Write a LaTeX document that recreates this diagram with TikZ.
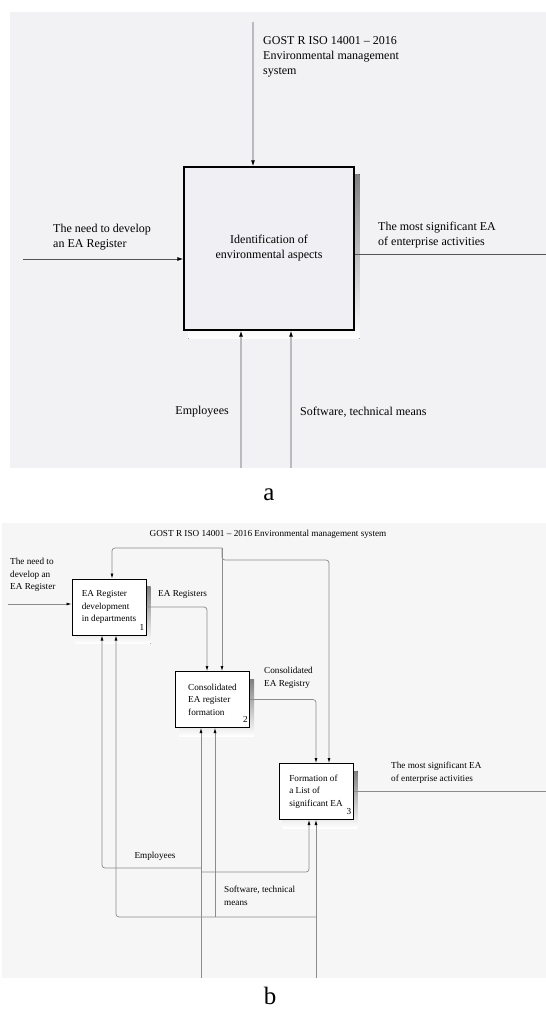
\documentclass[tikz,border=0pt]{standalone}
\usepackage{fontspec}
\setmainfont{Liberation Serif}
\usetikzlibrary{positioning,arrows.meta,calc,backgrounds}
\definecolor{panelA}{HTML}{F2F2F5}
\definecolor{panelB}{HTML}{F6F6F6}
\definecolor{boxA}{HTML}{F0F0F4}
\definecolor{shade}{HTML}{CDCDD0}
\definecolor{wireLight}{HTML}{BBBBBF}
\definecolor{wireDark}{HTML}{555558}
\definecolor{wireB}{HTML}{8C8C8C}
\tikzset{
  funcA/.style  = {rectangle, draw=black, line width=1.3pt, fill=boxA, align=center,
                   font=\fontsize{12}{15}\selectfont, minimum width=170pt, minimum height=163pt, inner sep=0pt},
  funcB/.style  = {rectangle, draw=black, line width=1pt, fill=white, align=left,
                   font=\fontsize{9.2}{12.5}\selectfont, minimum width=74pt, minimum height=56pt, inner sep=0pt},
  boxnum/.style = {font=\fontsize{9.2}{10}\selectfont, inner sep=2pt, anchor=south east, yshift=3pt},
  tipA/.style   = {-{Latex[length=6pt,width=4pt,color=black]}},
  tipB/.style   = {-{Latex[length=5pt,width=3pt,color=black]}},
  lightwire/.style = {tipA, draw=wireLight, line width=1.1pt},
  darkwire/.style  = {draw=wireDark, line width=0.9pt},
  wire/.style      = {draw=wireB, line width=0.7pt, rounded corners=3pt},
  wirearrow/.style = {wire, tipB},
  lblA/.style   = {font=\fontsize{12}{15}\selectfont, align=left, inner sep=0pt},
  lblB/.style   = {font=\fontsize{9.2}{12.5}\selectfont, align=left, inner sep=0pt},
  caption/.style = {font=\fontsize{25}{26}\selectfont, inner sep=0pt, anchor=base},
}

\begin{document}
\begin{tikzpicture}[x=1pt,y=-1pt]
  \useasboundingbox (0,0) rectangle (546,1012);
  \begin{scope}[on background layer]
    \fill[panelA] (10,12) rectangle (546,468);
    \fill[panelB] (2,523) rectangle (546,978);
  \end{scope}

  % Panel a: context diagram
  \node[funcA] (ident) at (269,248.5) {Identification of\\environmental aspects};
  \begin{scope}[on background layer]
    \fill[shade] ([shift={(5,8)}]ident.south west) rectangle ([shift={(5,8)}]ident.north east);
  \end{scope}

  \coordinate (ctrlA) at (253,22);
  \coordinate (inA) at (23,259);
  \coordinate (outA) at (546,254);
  \coordinate (empA) at (241,468);
  \coordinate (softA) at (291,468);

  \draw[lightwire] (ctrlA) -- (ctrlA |- ident.north);
  \draw[darkwire, tipA] (inA) -- (inA -| ident.west);
  \draw[darkwire] (outA -| ident.east) -- (outA);
  \draw[lightwire] (empA) -- (empA |- ident.south);
  \draw[lightwire] (softA) -- (softA |- ident.south);

  \node[lblA, anchor=north west] (ctrlAlbl) at (263,36) {GOST R ISO 14001 -- 2016\\Environmental management\\system};
  \node[lblA, anchor=north west] (inAlbl) at (53,224) {The need to develop\\an EA Register};
  \node[lblA, anchor=north west] (outAlbl) at (378,222) {The most significant EA\\of enterprise activities};
  \node[lblA, anchor=east] (empAlbl) at (229,412) {Employees};
  \node[lblA, anchor=west] (softAlbl) at (300,412) {Software, technical means};
  \node[caption] (capA) at (269,500) {a};

  % Panel b: decomposition
  \node[funcB] (reg)  at (109,607)     {EA Register\\development\\in departments};
  \node[funcB] (cons) at (212.5,699.5) {Consolidated\\EA register\\formation};
  \node[funcB] (list) at (316,791.5)   {Formation of\\a List of\\significant EA};
  \node[boxnum] (regnum)  at (reg.south east)  {1};
  \node[boxnum] (consnum) at (cons.south east) {2};
  \node[boxnum] (listnum) at (list.south east) {3};
  \begin{scope}[on background layer]
    \foreach \b in {reg,cons,list}
      \fill[shade] ([shift={(4,8)}]\b.south west) rectangle ([shift={(4,8)}]\b.north east);
  \end{scope}

  \node[lblB] (ctrlBlbl) at (268,534) {GOST R ISO 14001 -- 2016 Environmental management system};
  \coordinate (ctrlB) at (222,548);
  \coordinate (inB) at (8,604);
  \coordinate (outB) at (546,792);
  \coordinate (empB) at (201,978);
  \coordinate (empJ1) at (201,868);
  \coordinate (empJ2) at (201,872);
  \coordinate (softB) at (316,978);
  \coordinate (softJ) at (316,917);
  \coordinate (consM2) at ([xshift=2.5pt]cons.south);

  % controls
  \draw[wirearrow] (ctrlB) -| ([xshift=3pt]reg.north);
  \draw[wirearrow] (ctrlB) -- (ctrlB |- cons.north);
  \draw[wirearrow] (ctrlB) -- ++(0,12) -| ([xshift=13pt]list.north);
  % inputs / outputs
  \draw[wirearrow] (inB) -- (inB -| reg.west);
  \draw[wirearrow] (reg.east) -| ([xshift=-5.5pt]cons.north);
  \draw[wirearrow] (cons.east) -| (list.north);
  \draw[wire] (list.east) -- (list.east -| outB);
  % mechanisms
  \draw[wirearrow] (empB) -- (empB |- cons.south);
  \draw[wirearrow] (empJ1) -| ([xshift=-7pt]reg.south);
  \draw[wirearrow] (empJ2) -| ([xshift=-7pt]list.south);
  \draw[wirearrow] (softB) -- (softB |- list.south);
  \draw[wirearrow] (softJ) -| ([xshift=7pt]reg.south);
  \draw[wirearrow] (consM2 |- softJ) -- (consM2);

  \node[lblB, anchor=north west] (inBlbl) at (10,558) {The need to\\develop an\\EA Register};
  \node[lblB, anchor=west] (regout) at (158,594) {EA Registers};
  \node[lblB, anchor=north west] (consout) at (264,667) {Consolidated\\EA Registry};
  \node[lblB, anchor=north west] (listout) at (391,762) {The most significant EA\\of enterprise activities};
  \node[lblB] (empBlbl) at (155,856) {Employees};
  \node[lblB, anchor=north west] (softBlbl) at (224,886) {Software, technical\\means};
  \node[caption] (capB) at (270,1004) {b};
\end{tikzpicture}
\end{document}
